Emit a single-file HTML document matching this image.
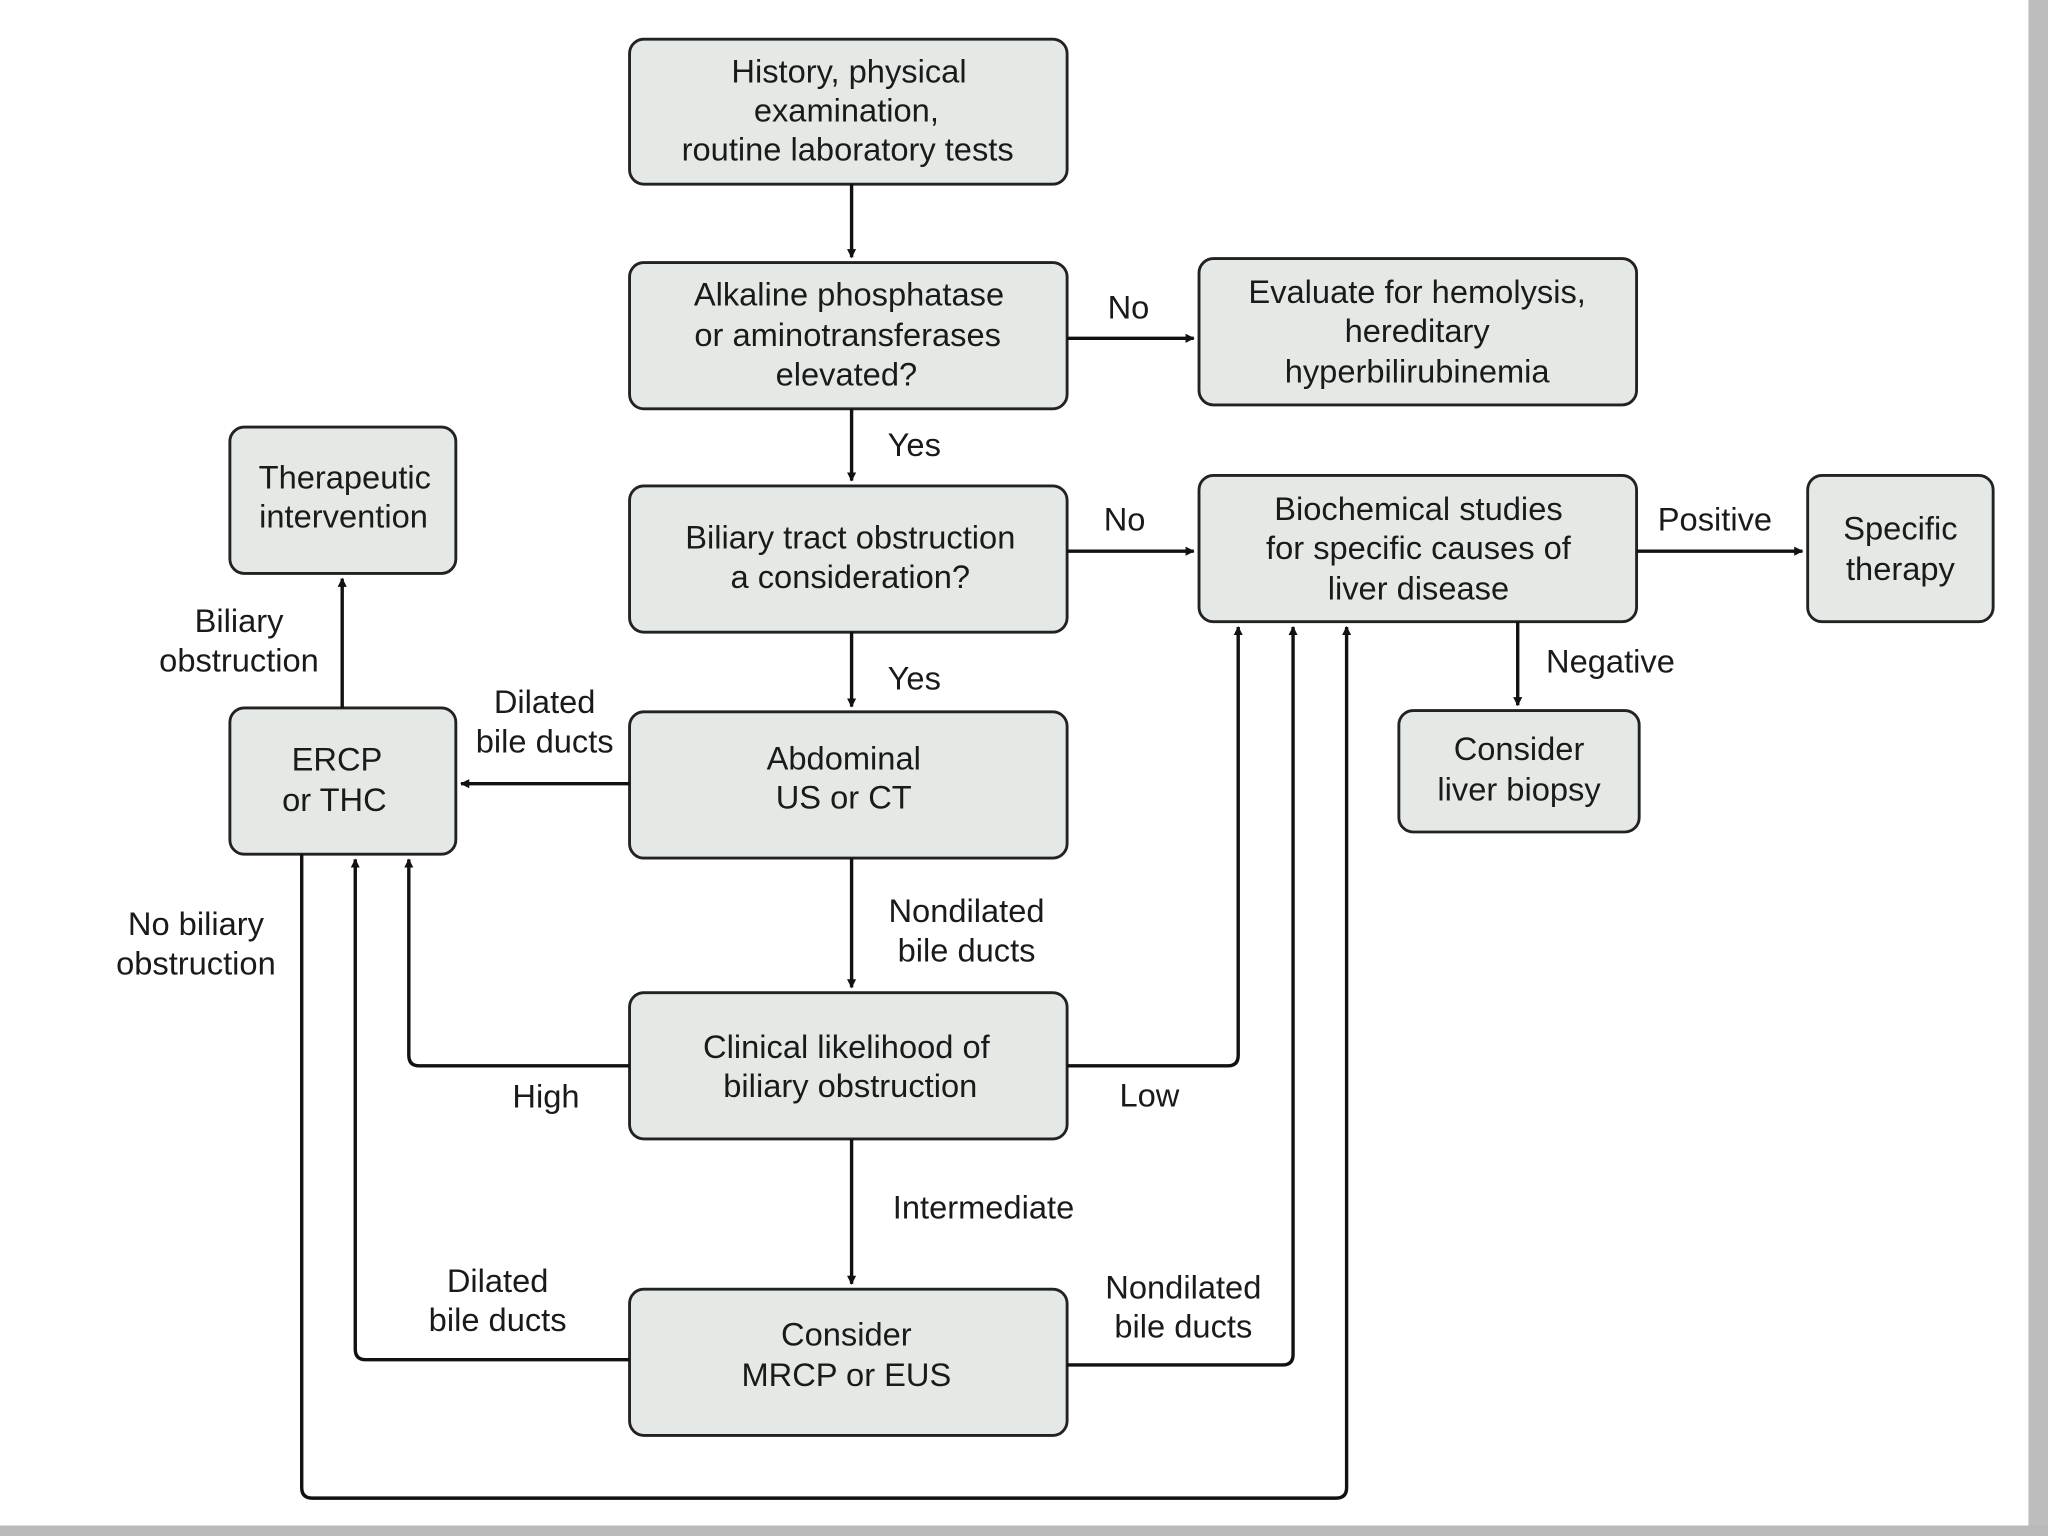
<!DOCTYPE html>
<html><head><meta charset="utf-8"><style>
html,body{margin:0;padding:0;background:#fff;}
svg{display:block;}
text{font-family:"Liberation Sans",sans-serif;font-size:25px;fill:#1a1a1a;text-anchor:middle;}
.b{fill:#e5e9e5;stroke:#222;stroke-width:2.2;}
.l{fill:none;stroke:#111;stroke-width:2.6;}
</style></head><body>
<svg width="2048" height="1536" viewBox="0 0 1568 1176" preserveAspectRatio="none" xmlns="http://www.w3.org/2000/svg">
<defs><marker id="a" viewBox="0 0 10 10" refX="9" refY="5" markerWidth="7" markerHeight="7" markerUnits="userSpaceOnUse" orient="auto"><path d="M0,0 L10,5 L0,10 z" fill="#111"/></marker>
<marker id="m" viewBox="0 0 10 10" refX="9" refY="5" markerWidth="9" markerHeight="9" orient="auto"><path d="M0,1.5 L10,5 L0,8.5 z" fill="#111"/></marker></defs>
<rect x="1553" y="0" width="15" height="1176" fill="#bdbdbd"/>
<rect x="0" y="1168" width="1568" height="8" fill="#b9b9b9"/>
<!-- boxes -->
<rect class="b" x="482" y="30" width="335" height="111" rx="11"/>
<rect class="b" x="482" y="201" width="335" height="112" rx="11"/>
<rect class="b" x="918" y="198" width="335" height="112" rx="11"/>
<rect class="b" x="176" y="327" width="173" height="112" rx="11"/>
<rect class="b" x="482" y="372" width="335" height="112" rx="11"/>
<rect class="b" x="918" y="364" width="335" height="112" rx="11"/>
<rect class="b" x="1384" y="364" width="142" height="112" rx="11"/>
<rect class="b" x="176" y="542" width="173" height="112" rx="11"/>
<rect class="b" x="482" y="545" width="335" height="112" rx="11"/>
<rect class="b" x="1071" y="544" width="184" height="93" rx="11"/>
<rect class="b" x="482" y="760" width="335" height="112" rx="11"/>
<rect class="b" x="482" y="987" width="335" height="112" rx="11"/>
<!-- box text -->
<text x="650" y="63">History, physical</text><text x="648" y="93">examination,</text><text x="649" y="123">routine laboratory tests</text>
<text x="650" y="234">Alkaline phosphatase</text><text x="649" y="265">or aminotransferases</text><text x="648" y="295">elevated?</text>
<text x="1085" y="232">Evaluate for hemolysis,</text><text x="1085" y="262">hereditary</text><text x="1085" y="293">hyperbilirubinemia</text>
<text x="264" y="374">Therapeutic</text><text x="263" y="404">intervention</text>
<text x="651" y="420">Biliary tract obstruction</text><text x="651" y="450">a consideration?</text>
<text x="1086" y="398">Biochemical studies</text><text x="1086" y="428">for specific causes of</text><text x="1086" y="459">liver disease</text>
<text x="1455" y="413">Specific</text><text x="1455" y="444">therapy</text>
<text x="258" y="590">ERCP</text><text x="256" y="621">or THC</text>
<text x="646" y="589">Abdominal</text><text x="646" y="619">US or CT</text>
<text x="1163" y="582">Consider</text><text x="1163" y="613">liver biopsy</text>
<text x="648" y="810">Clinical likelihood of</text><text x="651" y="840">biliary obstruction</text>
<text x="648" y="1030">Consider</text><text x="648" y="1061">MRCP or EUS</text>
<!-- connectors -->
<path class="l" d="M652,141 V197" marker-end="url(#a)"/>
<path class="l" d="M817,259 H914" marker-end="url(#a)"/>
<path class="l" d="M652,313 V368" marker-end="url(#a)"/>
<path class="l" d="M817,422 H914" marker-end="url(#a)"/>
<path class="l" d="M1253,422 H1380" marker-end="url(#a)"/>
<path class="l" d="M1162,476 V540" marker-end="url(#a)"/>
<path class="l" d="M652,484 V541" marker-end="url(#a)"/>
<path class="l" d="M482,600 H353" marker-end="url(#a)"/>
<path class="l" d="M262,542 V443" marker-end="url(#a)"/>
<path class="l" d="M652,657 V756" marker-end="url(#a)"/>
<path class="l" d="M482,816 H321 Q313,816 313,808 V658" marker-end="url(#a)"/>
<path class="l" d="M817,816 H940 Q948,816 948,808 V480" marker-end="url(#a)"/>
<path class="l" d="M652,872 V983" marker-end="url(#a)"/>
<path class="l" d="M482,1041 H280 Q272,1041 272,1033 V658" marker-end="url(#a)"/>
<path class="l" d="M817,1045 H982 Q990,1045 990,1037 V480" marker-end="url(#a)"/>
<path class="l" d="M231,654 V1139 Q231,1147 239,1147 H1023 Q1031,1147 1031,1139 V480" marker-end="url(#a)"/>
<!-- labels -->
<text x="864" y="244">No</text>
<text x="700" y="349">Yes</text>
<text x="861" y="406">No</text>
<text x="1313" y="406">Positive</text>
<text x="1233" y="515">Negative</text>
<text x="700" y="528">Yes</text>
<text x="417" y="546">Dilated</text><text x="417" y="576">bile ducts</text>
<text x="183" y="484">Biliary</text><text x="183" y="514">obstruction</text>
<text x="740" y="706">Nondilated</text><text x="740" y="736">bile ducts</text>
<text x="150" y="716">No biliary</text><text x="150" y="746">obstruction</text>
<text x="418" y="848">High</text>
<text x="880" y="847">Low</text>
<text x="753" y="933">Intermediate</text>
<text x="381" y="989">Dilated</text><text x="381" y="1019">bile ducts</text>
<text x="906" y="994">Nondilated</text><text x="906" y="1024">bile ducts</text>
</svg>
</body></html>
